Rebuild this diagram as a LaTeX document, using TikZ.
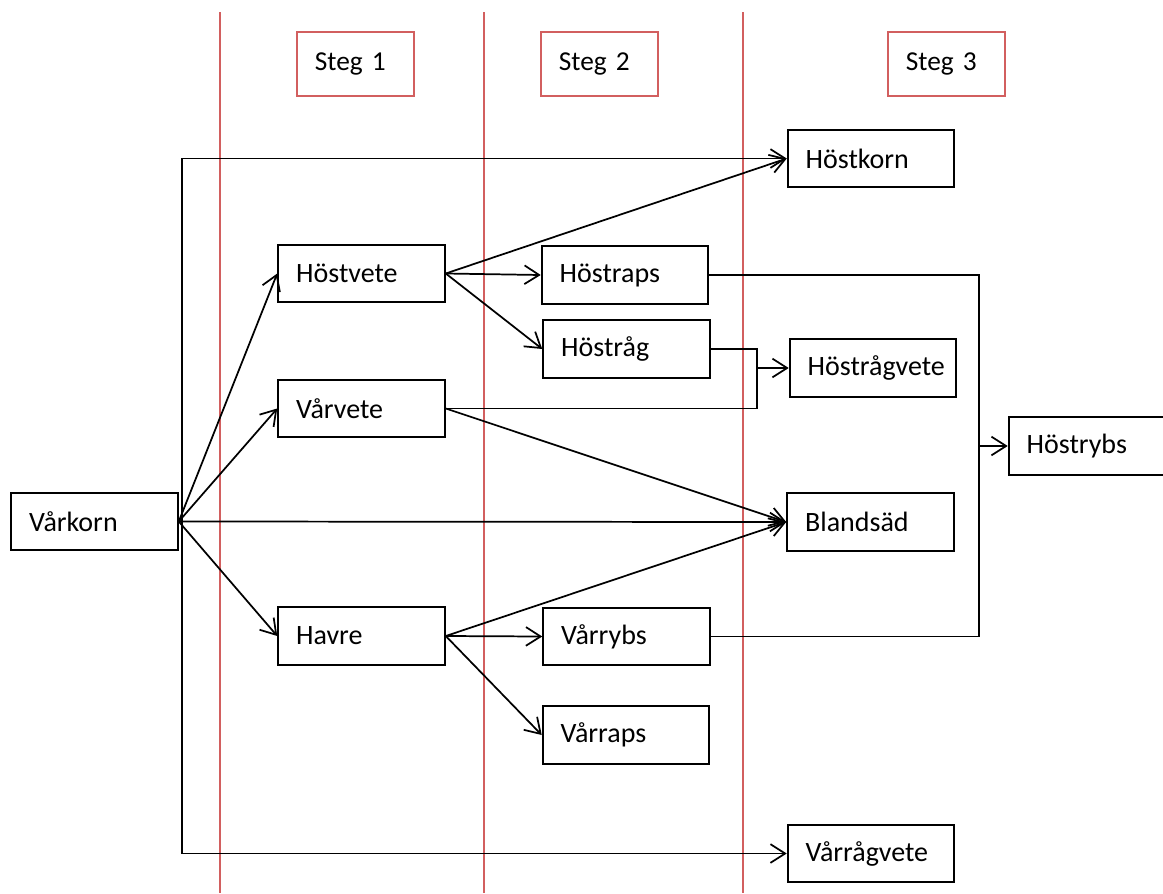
\documentclass[tikz,border=0pt]{standalone}
\usepackage{fontspec}
\setmainfont{Carlito}
\usetikzlibrary{arrows.meta}
\definecolor{redline}{RGB}{210,95,95}
\tikzset{
  box/.style={draw=black, line width=1.4pt, rectangle, inner xsep=13.5pt, inner ysep=0pt,
    text width=98pt, minimum height=43pt, align=left,
    font=\fontsize{21}{24}\selectfont},
  stegbox/.style={draw=redline, line width=1.2pt, rectangle, inner xsep=13.5pt, inner ysep=0pt,
    text width=61pt, minimum height=48pt, align=left,
    font=\fontsize{20.5}{24}\selectfont},
  redrule/.style={draw=redline, line width=1.2pt},
  conn/.style={draw=black, line width=1.3pt},
  arr/.style={conn, -{Straight Barb[length=11pt,width=14pt,line width=1.3pt]}}
}
\begin{document}
\begin{tikzpicture}[x=0.75pt, y=-0.75pt]
\useasboundingbox (0,0) rectangle (1163,893);
% column rules
\coordinate (r1t) at (220,12); \coordinate (r1b) at (220,893);
\coordinate (r2t) at (484,12); \coordinate (r2b) at (484,893);
\coordinate (r3t) at (743,12); \coordinate (r3b) at (743,893);
\draw[redrule] (r1t) -- (r1b);
\draw[redrule] (r2t) -- (r2b);
\draw[redrule] (r3t) -- (r3b);
% step labels
\node[stegbox] (s1) at (355.5,64) {Steg 1};
\node[stegbox] (s2) at (599.5,64) {Steg 2};
\node[stegbox] (s3) at (946.5,64) {Steg 3};
% crop boxes
\node[box] (vk) at (94.5,521.5) {Vårkorn};
\node[box] (hk) at (871,158.5) {Höstkorn};
\node[box] (hv) at (361.5,273.5) {Höstvete};
\node[box] (vv) at (361.5,408.5) {Vårvete};
\node[box] (ha) at (361.5,636) {Havre};
\node[box] (hr) at (625,275) {Höstraps};
\node[box] (hg) at (626.5,349) {Höstråg};
\node[box] (hgv) at (873,368) {Höstrågvete};
\node[box] (hrb) at (1092,446) {Höstrybs};
\node[box] (bl) at (870.5,522) {Blandsäd};
\node[box] (vr) at (626.5,636.5) {Vårrybs};
\node[box] (vra) at (626,735) {Vårraps};
\node[box] (vrv) at (871,853.5) {Vårrågvete};
% helper points
\coordinate (spine) at (182,521.5);
\coordinate (mx) at (757,368);
\coordinate (ry) at (979,446);
% from Vårkorn
\draw[arr] (vk.east) -- (hv.west);
\draw[arr] (vk.east) -- (vv.west);
\draw[arr] (vk.east) -- (ha.west);
\draw[arr] (vk.east) -- (bl.west);
\draw[conn] (vk.east) -- (spine);
\draw[arr] (spine) |- (hk.west);
\draw[arr] (spine) |- (vrv.west);
% from Höstvete
\draw[arr] (hv.east) -- (hk.west);
\draw[arr] (hv.east) -- (hr.west);
\draw[arr] (hv.east) -- (hg.west);
% to Höstrågvete
\draw[conn] (hg.east) -| (mx);
\draw[conn] (vv.east) -| (mx);
\draw[arr] (mx) -- (hgv.west);
% from Vårvete
\draw[arr] (vv.east) -- (bl.west);
% from Havre
\draw[arr] (ha.east) -- (bl.west);
\draw[arr] (ha.east) -- (vr.west);
\draw[arr] (ha.east) -- (vra.west);
% to Höstrybs
\draw[conn] (hr.east) -| (ry);
\draw[conn] (vr.east) -| (ry);
\draw[arr] (ry) -- (hrb.west);
\end{tikzpicture}
\end{document}
